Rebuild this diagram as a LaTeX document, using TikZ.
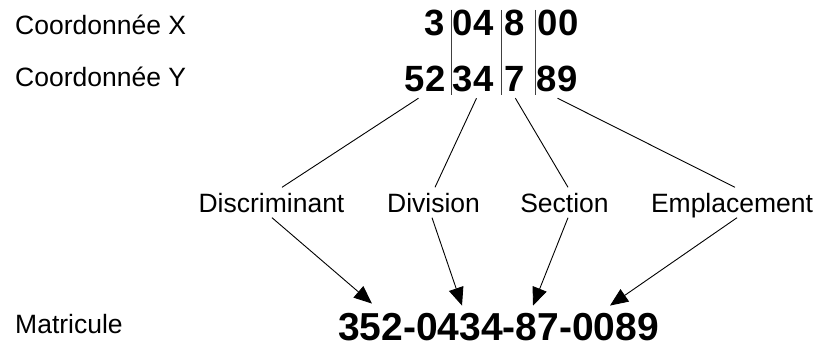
\documentclass[tikz,border=0pt]{standalone}
\usepackage{fontspec}
\setmainfont{Liberation Sans}
\usetikzlibrary{arrows.meta,calc}
\begin{document}
\begin{tikzpicture}[x=1pt,y=-1pt,
  lbl/.style={font=\fontsize{26.5}{30}\selectfont,inner sep=0pt,anchor=base west},
  mid/.style={font=\fontsize{26.5}{30}\selectfont,inner xsep=0pt,inner ysep=5.5pt,text height=19pt,text depth=0pt},
  num/.style={font=\fontsize{36.5}{40}\bfseries\selectfont,inner xsep=0pt,inner ysep=6pt,text height=26pt,text depth=0pt,anchor=base west},
  bar/.style={line width=0.9pt,draw=black!75},
  conn/.style={line width=0.9pt},
  arr/.style={line width=0.9pt,-{Triangle[length=18pt,width=15pt]}}]
\useasboundingbox (0,0) rectangle (818,347);
% left labels
\node[lbl] (cx) at (15,35) {Coordonnée X};
\node[lbl] (cy) at (15,87) {Coordonnée Y};
\node[lbl] (lm) at (15,333) {Matricule};
% coordinate numbers
\node[num] (x1) at (424.5,36) {3};
\node[num] (x2) at (452.5,36) {04};
\node[num] (x3) at (504.5,36) {8};
\node[num] (x4) at (537.5,36) {00};
\node[num] (y1) at (404.5,92) {52};
\node[num] (y2) at (452.5,92) {34};
\node[num] (y3) at (504.5,92) {7};
\node[num] (y4) at (536.5,92) {89};
% separator bars
\coordinate (b1t) at (451.7,10); \coordinate (b1b) at (451.7,95);
\coordinate (b2t) at (501.7,10); \coordinate (b2b) at (501.7,95);
\coordinate (b3t) at (535.7,10); \coordinate (b3b) at (535.7,95);
\draw[bar] (b1t) -- (b1b);
\draw[bar] (b2t) -- (b2b);
\draw[bar] (b3t) -- (b3b);
% middle labels
\node[mid] (disc) at (271.5,202.5) {Discriminant};
\node[mid] (div) at (433.5,202.5) {Division};
\node[mid] (sec) at (564.5,202.5) {Section};
\node[mid] (emp) at (732,202.5) {Emplacement};
% matricule
\node[font=\fontsize{39}{43}\bfseries\selectfont,inner sep=0pt,anchor=base] (mat) at (498.5,340)
  {352-0434-87-0089};
% connectors
\draw[conn] ($(y1.south)+(-6.5,0)$) -- ($(disc.north)+(10.5,0)$);
\draw[conn] ($(y2.south)+(3.5,0)$) -- ($(div.north)+(1.5,0)$);
\draw[conn] ($(y3.south)+(0.5,0)$) -- ($(sec.north)+(3.5,0)$);
\draw[conn] ($(y4.south)+(0.5,0)$) -- ($(emp.north)+(3,0)$);
\draw[arr] ($(disc.south)+(0.5,0)$) -- ($(mat.north)+(-126.5,-9)$);
\draw[arr] ($(div.south)+(-1.5,0)$) -- ($(mat.north)+(-36.5,-7)$);
\draw[arr] ($(sec.south)+(3.5,0)$) -- ($(mat.north)+(34.5,-7)$);
\draw[arr] ($(emp.south)+(5,0)$) -- ($(mat.north)+(111.5,-7)$);
\end{tikzpicture}
\end{document}
